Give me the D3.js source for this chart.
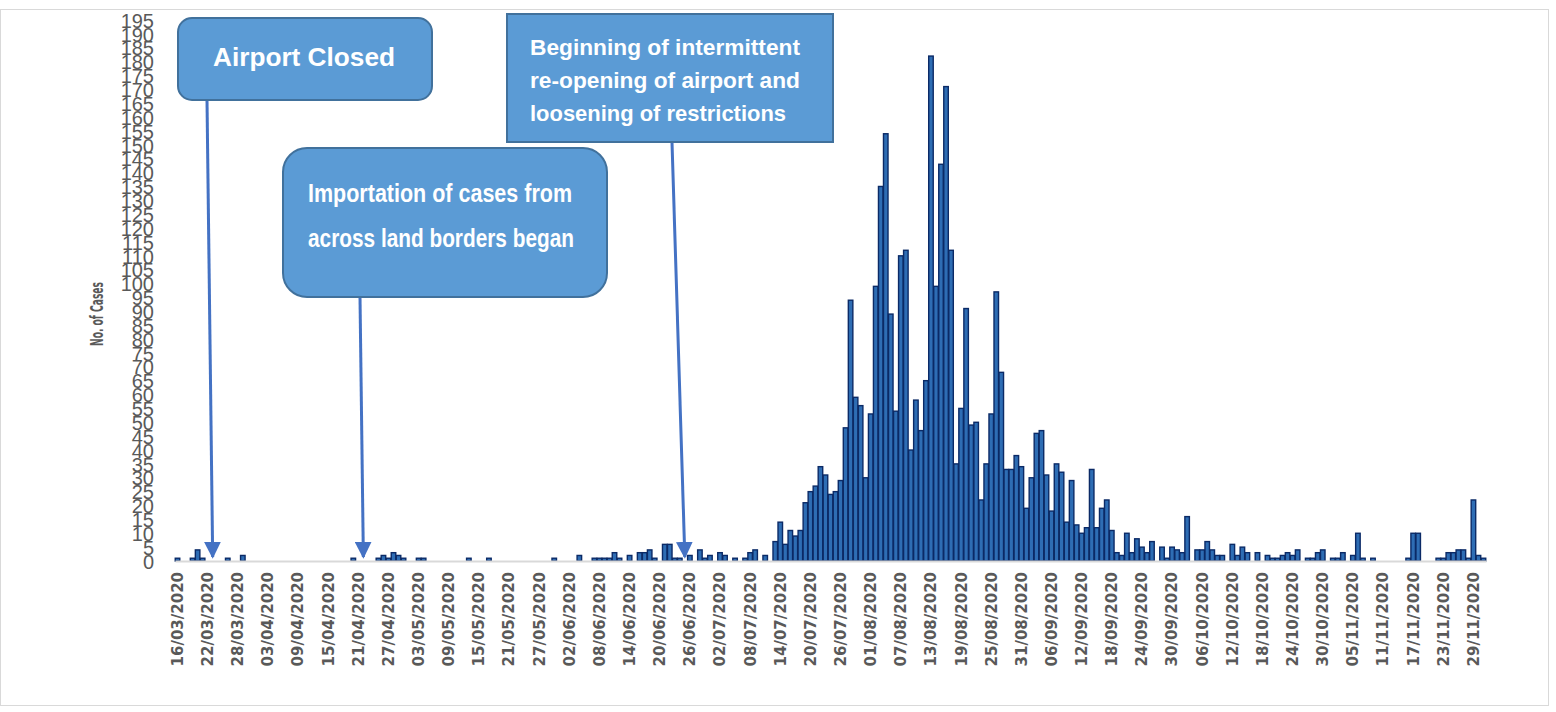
<!DOCTYPE html>
<html>
<head>
<meta charset="utf-8">
<script src="https://cdn.jsdelivr.net/npm/d3@7"></script>
<style>
  html, body { margin: 0; padding: 0; background: #fff; }
  svg { display: block; }
  .ytick text { font-family: "Liberation Sans", Arial, sans-serif; font-size: 20px; fill: #595959; }
  .xtick text { font-family: "DejaVu Sans", Verdana, sans-serif; font-size: 15px; font-weight: bold; fill: #595959; }
  .note text { font-family: "Liberation Sans", Arial, sans-serif; font-weight: bold; fill: #fff; }
</style>
</head>
<body>
<svg id="chart" width="1556" height="712"></svg>
<script>
// first day of the series, one bar per day
var startDay = new Date(2020, 2, 16);

// daily confirmed cases, 16/03/2020 .. 01/12/2020
var cases = [
  1, 0, 0, 1, 4, 1, 0, 0, 0, 0, 1, 0, 0, 2, 0, 0, 0, 0, 0, 0,
  0, 0, 0, 0, 0, 0, 0, 0, 0, 0, 0, 0, 0, 0, 0, 1, 0, 0, 0, 0,
  1, 2, 1, 3, 2, 1, 0, 0, 1, 1, 0, 0, 0, 0, 0, 0, 0, 0, 1, 0,
  0, 0, 1, 0, 0, 0, 0, 0, 0, 0, 0, 0, 0, 0, 0, 1, 0, 0, 0, 0,
  2, 0, 0, 1, 1, 1, 1, 3, 1, 0, 2, 0, 3, 3, 4, 1, 0, 6, 6, 1,
  1, 0, 2, 0, 4, 1, 2, 0, 3, 2, 0, 1, 0, 1, 3, 4, 0, 2, 0, 7,
  14, 6, 11, 9, 11, 21, 25, 27, 34, 31, 24, 25, 29, 48, 94, 59, 56, 30, 53, 99,
  135, 154, 89, 54, 110, 112, 40, 58, 47, 65, 182, 99, 143, 171, 112, 35, 55, 91, 49, 50,
  22, 35, 53, 97, 68, 33, 33, 38, 34, 19, 30, 46, 47, 31, 18, 35, 32, 14, 29, 13,
  10, 12, 33, 12, 19, 22, 11, 3, 2, 10, 3, 8, 5, 3, 7, 0, 5, 1, 5, 4,
  3, 16, 0, 4, 4, 7, 4, 2, 2, 0, 6, 2, 5, 3, 0, 3, 0, 2, 1, 1,
  2, 3, 2, 4, 0, 1, 1, 3, 4, 0, 1, 1, 3, 0, 2, 10, 1, 0, 1, 0,
  0, 0, 0, 0, 0, 1, 10, 10, 0, 0, 0, 1, 1, 3, 3, 4, 4, 1, 22, 2,
  1
];

// category labels shown on the axis (every sixth day)
var tickLabels = [
  '16/03/2020', '22/03/2020', '28/03/2020', '03/04/2020', '09/04/2020', '15/04/2020',
  '21/04/2020', '27/04/2020', '03/05/2020', '09/05/2020', '15/05/2020', '21/05/2020',
  '27/05/2020', '02/06/2020', '08/06/2020', '14/06/2020', '20/06/2020', '26/06/2020',
  '02/07/2020', '08/07/2020', '14/07/2020', '20/07/2020', '26/07/2020', '01/08/2020',
  '07/08/2020', '13/08/2020', '19/08/2020', '25/08/2020', '31/08/2020', '06/09/2020',
  '12/09/2020', '18/09/2020', '24/09/2020', '30/09/2020', '06/10/2020', '12/10/2020',
  '18/10/2020', '24/10/2020', '30/10/2020', '05/11/2020', '11/11/2020', '17/11/2020',
  '23/11/2020', '29/11/2020'
];

var yTicks = d3.range(0, 200, 5);

// annotation callouts: text lines and the date the arrow points at
var noteLines = [
  ['Airport Closed'],
  ['Importation of cases from', 'across land borders began'],
  ['Beginning of intermittent', 're-opening of airport and', 'loosening of restrictions']
];
var noteDays = ['23/03/2020', '22/04/2020', '25/06/2020'];


var fmt = d3.timeFormat('%d/%m/%Y');
var days = d3.timeDay.range(startDay, d3.timeDay.offset(startDay, cases.length)).map(fmt);

var svg = d3.select('#chart');

// outer chart frame
svg.append('rect')
    .attr('x', 0.5).attr('y', 9.5)
    .attr('width', 1548).attr('height', 696)
    .attr('fill', '#fff')
    .attr('stroke', '#d9d9d9');

var x = d3.scaleBand().domain(days).range([175, 1486]).paddingInner(0.1).paddingOuter(0.05);
var y = d3.scaleLinear().domain([0, 195]).range([561, 20]);

// y axis, labels only
var yAxis = svg.append('g')
    .attr('class', 'ytick')
    .attr('transform', 'translate(154,0)')
    .call(d3.axisLeft(y).tickValues(yTicks).tickSize(0).tickPadding(0));
yAxis.select('.domain').remove();
yAxis.selectAll('text').attr('dy', '0.36em');

svg.append('text')
    .attr('transform', 'translate(103,314) rotate(-90)')
    .attr('text-anchor', 'middle')
    .attr('textLength', 64)
    .attr('lengthAdjust', 'spacingAndGlyphs')
    .style('font-family', '"DejaVu Sans Condensed", "DejaVu Sans", sans-serif')
    .style('font-size', '17px')
    .style('font-weight', 'bold')
    .style('fill', '#595959')
    .text('No. of Cases');

// bars
svg.append('g').selectAll('rect')
    .data(cases)
    .join('rect')
    .attr('x', function(d, i) { return x(days[i]); })
    .attr('y', function(d) { return y(d); })
    .attr('width', x.bandwidth())
    .attr('height', function(d) { return y(0) - y(d); })
    .attr('fill', function(d) { return d > 0 ? '#2e6db4' : 'none'; })
    .attr('stroke', function(d) { return d > 0 ? '#0b2a66' : 'none'; })
    .attr('stroke-width', 1.4);

// category axis
var xAxis = svg.append('g')
    .attr('class', 'xtick')
    .attr('transform', 'translate(0,' + y(0) + ')')
    .call(d3.axisBottom(x).tickValues(tickLabels).tickSize(0).tickPadding(0));
xAxis.select('.domain')
    .attr('stroke', '#d9d9d9')
    .attr('stroke-width', 2);
xAxis.selectAll('text')
    .attr('transform', 'rotate(-90)')
    .attr('text-anchor', 'end')
    .attr('x', -11)
    .attr('y', 0)
    .attr('dy', '0.36em');

// callout boxes; widths[] are the drawn widths of each text line
var boxes = [
  {x: 178, y: 18, w: 254, h: 82, r: 14, size: 26, lh: 0, top: 66, tx: 213, widths: [182], fromX: 207, fromY: 100},
  {x: 283, y: 148, w: 324, h: 149, r: 24, size: 26, lh: 45, top: 202, tx: 308, widths: [264, 266], fromX: 360, fromY: 297},
  {x: 507, y: 14, w: 326, h: 128, r: 0, size: 22, lh: 33, top: 55, tx: 530, widths: [270, 270, 256], fromX: 672, fromY: 142}
];

var defs = svg.append('defs');
defs.append('marker')
    .attr('id', 'head')
    .attr('viewBox', '0 0 10 10')
    .attr('refX', 9).attr('refY', 5)
    .attr('markerWidth', 5.6).attr('markerHeight', 5.6)
    .attr('markerUnits', 'strokeWidth')
    .attr('orient', 'auto')
    .append('path')
    .attr('d', 'M0,0L10,5L0,10Z')
    .attr('fill', '#4472c4');

boxes.forEach(function(b, k) {
  var tipX = x(noteDays[k]) + x.bandwidth() / 2;
  svg.append('line')
      .attr('x1', b.fromX).attr('y1', b.fromY)
      .attr('x2', tipX).attr('y2', y(0) - 4)
      .attr('stroke', '#4472c4')
      .attr('stroke-width', 3)
      .attr('marker-end', 'url(#head)');
});

boxes.forEach(function(b, k) {
  var g = svg.append('g').attr('class', 'note');
  g.append('rect')
      .attr('x', b.x).attr('y', b.y)
      .attr('width', b.w).attr('height', b.h)
      .attr('rx', b.r)
      .attr('fill', '#5b9bd5')
      .attr('stroke', '#41719c')
      .attr('stroke-width', 2);
  noteLines[k].forEach(function(line, j) {
    g.append('text')
        .attr('x', b.tx)
        .attr('y', b.top + j * b.lh)
        .attr('textLength', b.widths[j])
        .attr('lengthAdjust', 'spacingAndGlyphs')
        .style('font-size', b.size + 'px')
        .text(line);
  });
});
</script>
</body>
</html>
